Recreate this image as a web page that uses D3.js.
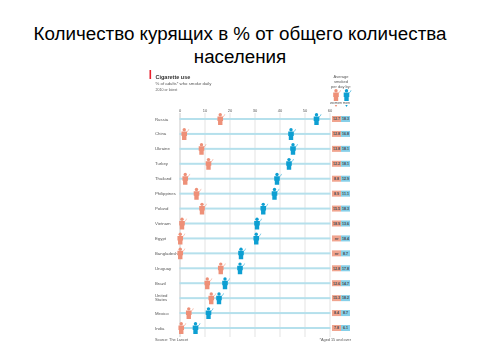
<!DOCTYPE html>
<html>
<head>
<meta charset="utf-8">
<script src="https://cdnjs.cloudflare.com/ajax/libs/d3/7.8.5/d3.min.js"></script>
<style>
  html, body { margin: 0; padding: 0; background: #fff; }
  svg { display: block; }
  text { font-family: "Liberation Sans", Arial, sans-serif; }
</style>
</head>
<body>
<div id="chart"></div>
<script>
const countries = ['Russia', 'China', 'Ukraine', 'Turkey', 'Thailand', 'Philippines', 'Poland', 'Vietnam',
  'Egypt', 'Bangladesh', 'Uruguay', 'Brazil', 'United States', 'Mexico', 'India'];
const women = [16.3, 1.9, 8.8, 11.6, 2.3, 6.8, 9, 1, 0.3, 0.3, 16.5, 11.1, 12.7, 3.7, 0.7];
const men = [54.8, 44.6, 45.4, 43.8, 39, 38, 33.5, 31, 30.7, 24.6, 24.2, 18.2, 15.8, 11.6, 6.4];
const womenPerDay = ['12.7', '12.8', '13.8', '12.2', '8.8', '8.9', '15.5', '18.9', 'nr', 'nr', '12.8', '12.6', '15.3', '8.4', '7.8'];
const menPerDay = ['18.3', '16.8', '18.1', '18.1', '12.9', '11.1', '18.3', '13.6', '18.4', '8.7', '17.8', '14.7', '18.2', '8.7', '6.1'];
const xTicks = [0, 10, 20, 30, 40, 50, 60];
const titleLines = ['Количество курящих в % от общего количества', 'населения'];

const WIDTH = 480;
const HEIGHT = 360;
const COLOR_WOMEN = '#ee9078';
const COLOR_MEN = '#0d9fd2';
const COLOR_ROW = '#b5e0ec';
const COLOR_TEXT = '#555';

const svg = d3.select('#chart').append('svg')
  .attr('width', WIDTH)
  .attr('height', HEIGHT);

const x = d3.scaleLinear().domain([0, 60]).range([179.5, 329.5]);
const y = d3.scalePoint().domain(countries).range([119, 328]);

// title
svg.append('g').selectAll('text')
  .data(titleLines)
  .enter().append('text')
  .attr('x', 240)
  .attr('y', function (d, i) { return 40 + i * 22.5; })
  .attr('text-anchor', 'middle')
  .style('font-size', '18.8px')
  .style('fill', '#000')
  .text(function (d) { return d; });

// everything below the title is soft in the reference
const chart = svg.append('g').style('filter', 'blur(0.3px)');

// chart heading
chart.append('rect').attr('x', 149.5).attr('y', 70).attr('width', 1.6).attr('height', 9).style('fill', '#e8212e');
chart.append('text').attr('x', 155.5).attr('y', 79).style('font-size', '5.5px').style('font-weight', 'bold').style('fill', '#333').text('Cigarette use');
chart.append('text').attr('x', 155.5).attr('y', 85).style('font-size', '4.3px').style('fill', COLOR_TEXT).text('% of adults* who smoke daily');
chart.append('text').attr('x', 155.5).attr('y', 90.5).style('font-size', '3.6px').style('fill', COLOR_TEXT).text('2010 or latest');

// grid + axis labels
const xAxis = d3.axisTop(x).tickValues(xTicks).tickSize(0).tickPadding(1);
const axisG = chart.append('g')
  .attr('transform', 'translate(0,113)')
  .call(xAxis);
axisG.select('.domain').remove();
axisG.selectAll('text').style('font-size', '4px').style('fill', COLOR_TEXT).style('font-family', '"Liberation Sans", Arial, sans-serif');
axisG.selectAll('.tick line')
  .attr('y2', 224)
  .style('stroke', function (d) { return d === 0 ? '#bbb' : '#dcdcdc'; })
  .style('stroke-width', 0.8);

// rows
const rows = chart.append('g').selectAll('g')
  .data(countries)
  .enter().append('g')
  .attr('transform', function (d) { return 'translate(0,' + y(d) + ')'; });

rows.append('rect')
  .attr('x', x(0))
  .attr('y', -1)
  .attr('width', x(60) - x(0) + 1)
  .attr('height', 2)
  .style('fill', COLOR_ROW);

rows.append('text')
  .attr('x', 155)
  .style('font-size', '4.3px')
  .style('fill', COLOR_TEXT)
  .each(function (d) {
    const parts = d.split(' ');
    const el = d3.select(this);
    parts.forEach(function (p, i) {
      el.append('tspan')
        .attr('x', 155)
        .attr('y', parts.length > 1 ? (i === 0 ? -1.5 : 3.2) : 1.5)
        .text(p);
    });
  });

// little smoker figure, origin at the middle of the body
function drawSmoker(parent, color) {
  const g = parent.append('g');
  g.append('circle').attr('cx', 0).attr('cy', -4.2).attr('r', 1.7).style('fill', color);
  g.append('path')
    .attr('d', 'M-2.8,-2.5 H2.8 V2 H2.2 V6 H-2.2 V2 H-2.8 Z')
    .style('fill', color);
  g.append('path')
    .attr('d', 'M2.5,-2 L3.8,-3 L4.6,-4.8')
    .style('fill', 'none')
    .style('stroke', color)
    .style('stroke-width', 0.5);
  return g;
}

rows.each(function (d, i) {
  const row = d3.select(this);
  drawSmoker(row, COLOR_WOMEN).attr('transform', 'translate(' + x(women[i]) + ',0)');
  drawSmoker(row, COLOR_MEN).attr('transform', 'translate(' + x(men[i]) + ',0)');

  row.append('rect').attr('x', 332).attr('y', -3).attr('width', 9).attr('height', 6).style('fill', '#f0a48f');
  row.append('rect').attr('x', 341).attr('y', -3).attr('width', 9).attr('height', 6).style('fill', '#86cfe8');
  row.append('text').attr('x', 336.5).attr('y', 1.3).attr('text-anchor', 'middle')
    .style('font-size', '3.6px').style('font-weight', 'bold').style('fill', '#444').text(womenPerDay[i]);
  row.append('text').attr('x', 345.5).attr('y', 1.3).attr('text-anchor', 'middle')
    .style('font-size', '3.6px').style('font-weight', 'bold').style('fill', '#444').text(menPerDay[i]);
});

// per day legend
['Average', 'smoked', 'per day by:'].forEach(function (t, i) {
  chart.append('text').attr('x', 341).attr('y', 78 + i * 4.8).attr('text-anchor', 'middle')
    .style('font-size', '4px').style('fill', COLOR_TEXT).text(t);
});
drawSmoker(chart, COLOR_WOMEN).attr('transform', 'translate(336,95)');
drawSmoker(chart, COLOR_MEN).attr('transform', 'translate(346.5,95)');
chart.append('text').attr('x', 336).attr('y', 103.5).attr('text-anchor', 'middle').style('font-size', '3.8px').style('fill', COLOR_TEXT).text('women');
chart.append('text').attr('x', 346.5).attr('y', 103.5).attr('text-anchor', 'middle').style('font-size', '3.8px').style('fill', COLOR_TEXT).text('men');
chart.append('path').attr('d', 'M334.8,105 H337.2 L336,107 Z').style('fill', COLOR_WOMEN);
chart.append('path').attr('d', 'M345.3,105 H347.7 L346.5,107 Z').style('fill', COLOR_MEN);

// footnotes
chart.append('text').attr('x', 155).attr('y', 341).style('font-size', '3.8px').style('fill', COLOR_TEXT).text('Source: The Lancet');
chart.append('text').attr('x', 351).attr('y', 341).attr('text-anchor', 'end').style('font-size', '3.8px').style('fill', COLOR_TEXT).text('*Aged 15 and over');
</script>
</body>
</html>
